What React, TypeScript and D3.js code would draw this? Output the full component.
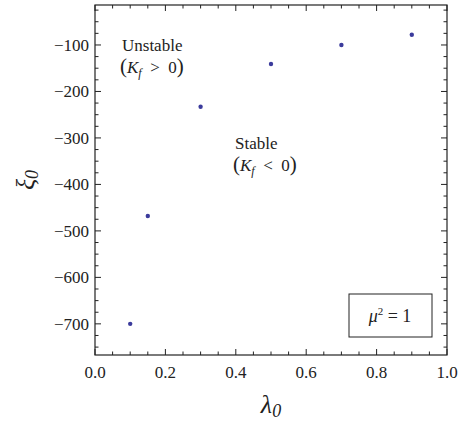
import React from 'react';
import * as d3 from 'd3';

const lambdas = [0.1, 0.15, 0.3, 0.5, 0.7, 0.9];
const xis = [-700, -468, -233, -141, -100, -78];
const xTicks = [0, 0.2, 0.4, 0.6, 0.8, 1.0];
const yTicks = [-700, -600, -500, -400, -300, -200, -100];

const W = 458, H = 426;
const m = { left: 95, right: 11, top: 5, bottom: 71 };
const font = 'Times, "Liberation Serif", "DejaVu Serif", serif';

export default function App() {
  const x = d3.scaleLinear().domain([0, 1]).range([m.left, W - m.right]);
  const y = d3.scaleLinear().domain([-767, -14]).range([H - m.bottom, m.top]);
  const xMinor = d3.range(0, 1.0001, 0.05);
  const yMinor = d3.range(-750, -14, 25);
  const x0 = x.range()[0], x1 = x.range()[1], y0 = y.range()[0], y1 = y.range()[1];
  const ink = '#222';
  return (
    <svg width={W} height={H} fontFamily={font} style={{ position: 'absolute', left: 0, top: 0, background: '#fff' }}>
      <rect x={x0} y={y1} width={x1 - x0} height={y0 - y1} fill="none" stroke={ink} strokeWidth={1.2} />
      {xMinor.map((v, i) => {
        const major = Math.abs(v * 5 - Math.round(v * 5)) < 1e-6;
        const len = major ? 6 : 3.5;
        return (
          <g key={'xm' + i} stroke={ink}>
            <line x1={x(v)} x2={x(v)} y1={y0} y2={y0 - len} />
            <line x1={x(v)} x2={x(v)} y1={y1} y2={y1 + len} />
          </g>
        );
      })}
      {yMinor.map((v, i) => {
        const major = v % 100 === 0;
        const len = major ? 6 : 3.5;
        return (
          <g key={'ym' + i} stroke={ink}>
            <line x1={x0} x2={x0 + len} y1={y(v)} y2={y(v)} />
            <line x1={x1} x2={x1 - len} y1={y(v)} y2={y(v)} />
          </g>
        );
      })}
      {xTicks.map((v) => (
        <text key={'xt' + v} x={x(v)} y={y0 + 23} textAnchor="middle" fontSize={17} fill={ink}>{v.toFixed(1)}</text>
      ))}
      {yTicks.map((v) => (
        <text key={'yt' + v} x={x0 - 6} y={y(v) + 6} textAnchor="end" fontSize={17} fill={ink}>{'\u2212' + Math.abs(v)}</text>
      ))}
      {lambdas.map((l, i) => (
        <circle key={'p' + i} cx={x(l)} cy={y(xis[i])} r={2.2} fill="#3b3b9c" />
      ))}
      <text x={(x0 + x1) / 2} y={413} textAnchor="middle" fontSize={26} fontStyle="italic" fill={ink}>λ<tspan fontSize={18} dy={4}>0</tspan></text>
      <text transform={`translate(34,${(y0 + y1) / 2}) rotate(-90)`} textAnchor="middle" fontSize={26} fontStyle="italic" fill={ink}>ξ<tspan fontSize={18} dy={4}>0</tspan></text>
      <g fontSize={17} fill={ink}>
        <text x={122} y={51}>Unstable</text>
        <text x={120} y={73}><tspan fontSize={21}>(</tspan><tspan fontStyle="italic">K</tspan><tspan fontStyle="italic" fontSize={12} dy={4}>f</tspan><tspan dy={-4}>{'\u2002>\u20020'}</tspan><tspan fontSize={21}>)</tspan></text>
        <text x={235} y={149}>Stable</text>
        <text x={233} y={171}><tspan fontSize={21}>(</tspan><tspan fontStyle="italic">K</tspan><tspan fontStyle="italic" fontSize={12} dy={4}>f</tspan><tspan dy={-4}>{'\u2002<\u20020'}</tspan><tspan fontSize={21}>)</tspan></text>
      </g>
      <rect x={349} y={294} width={83} height={43} fill="#fff" stroke={ink} strokeWidth={1} />
      <text x={390} y={322} textAnchor="middle" fontSize={18} fill={ink}><tspan fontStyle="italic">μ</tspan><tspan fontSize={11} dy={-7}>2</tspan><tspan dy={7}>{' = 1'}</tspan></text>
    </svg>
  );
}
